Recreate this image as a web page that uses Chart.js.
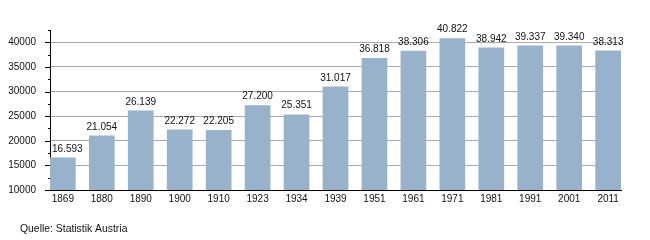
<!DOCTYPE html>
<html>
<head>
<meta charset="utf-8">
<script src="https://cdn.jsdelivr.net/npm/chart.js@4/dist/chart.umd.min.js"></script>
<style>
  html, body { margin: 0; padding: 0; background: #fff; }
  #wrap { width: 650px; height: 240px; }
</style>
</head>
<body>
<div id="wrap"><canvas id="c" width="650" height="240"></canvas></div>
<script>
const years = ['1869','1880','1890','1900','1910','1923','1934','1939','1951','1961','1971','1981','1991','2001','2011'];
const population = [16593, 21054, 26139, 22272, 22205, 27200, 25351, 31017, 36818, 38306, 40822, 38942, 39337, 39340, 38313];
const yTickValues = [10000, 15000, 20000, 25000, 30000, 35000, 40000];
const sourceText = 'Quelle: Statistik Austria';

const FONT = 'Liberation Sans, Arial, sans-serif';
const fmt = v => Math.floor(v / 1000) + '.' + String(v % 1000).padStart(3, '0');

const extras = {
  id: 'extras',
  afterDatasetsDraw(chart) {
    const ctx = chart.ctx;
    const y = chart.scales.y;
    const meta = chart.getDatasetMeta(0);
    const left = chart.chartArea.left;
    ctx.save();
    // value labels
    ctx.font = '10px ' + FONT;
    ctx.fillStyle = '#111';
    ctx.textAlign = 'center';
    ctx.textBaseline = 'alphabetic';
    meta.data.forEach((bar, i) => {
      const txt = fmt(population[i]);
      const w = ctx.measureText(txt).width;
      const cx = Math.max(bar.x, left + 2 + w / 2);
      ctx.fillText(txt, cx, bar.y - 6);
    });
    // y tick marks (major long, minor short)
    ctx.strokeStyle = '#000';
    ctx.lineWidth = 1;
    for (let v = y.min; v <= y.max; v += 2500) {
      const py = Math.round(y.getPixelForValue(v)) + 0.5;
      const len = yTickValues.includes(v) ? 5 : 2;
      ctx.beginPath();
      ctx.moveTo(left - len, py);
      ctx.lineTo(left, py);
      ctx.stroke();
    }
    // source
    ctx.font = '10.4px ' + FONT;
    ctx.textAlign = 'left';
    ctx.textBaseline = 'middle';
    ctx.fillStyle = '#111';
    ctx.fillText(sourceText, 20, 229);
    ctx.restore();
  }
};

new Chart(document.getElementById('c'), {
  type: 'bar',
  data: {
    datasets: [{
      data: population.map((v, i) => ({ x: i, y: v })),
      backgroundColor: '#99b2cb',
      borderWidth: 0,
      barPercentage: 0.66,
      categoryPercentage: 1
    }]
  },
  options: {
    responsive: false,
    animation: false,
    layout: { padding: { left: 0, top: 30, right: 29, bottom: 0 } },
    plugins: { legend: { display: false }, tooltip: { enabled: false } },
    scales: {
      x: {
        type: 'linear',
        offset: false,
        min: -0.33,
        max: 14.33,
        grid: { display: false, drawTicks: false },
        border: { display: true, color: '#000', width: 1 },
        afterBuildTicks: s => { s.ticks = years.map((_, i) => ({ value: i })); },
        ticks: {
          autoSkip: false,
          maxRotation: 0,
          padding: 3,
          color: '#111',
          font: { family: FONT, size: 10 },
          callback: v => years[v] !== undefined ? years[v] : ''
        },
        afterFit: s => { s.height = 50; }
      },
      y: {
        min: 10000,
        max: 42500,
        grid: {
          drawTicks: false,
          color: c => (c.tick && yTickValues.includes(c.tick.value)) ? '#a9a9a9' : '#e5e5e5'
        },
        border: { display: true, color: '#000', width: 1 },
        ticks: {
          stepSize: 2500,
          padding: 14,
          color: '#111',
          font: { family: FONT, size: 10 },
          callback: v => yTickValues.includes(v) ? String(v) : ''
        },
        afterFit: s => { s.width = 50; }
      }
    }
  },
  plugins: [extras]
});
</script>
</body>
</html>
